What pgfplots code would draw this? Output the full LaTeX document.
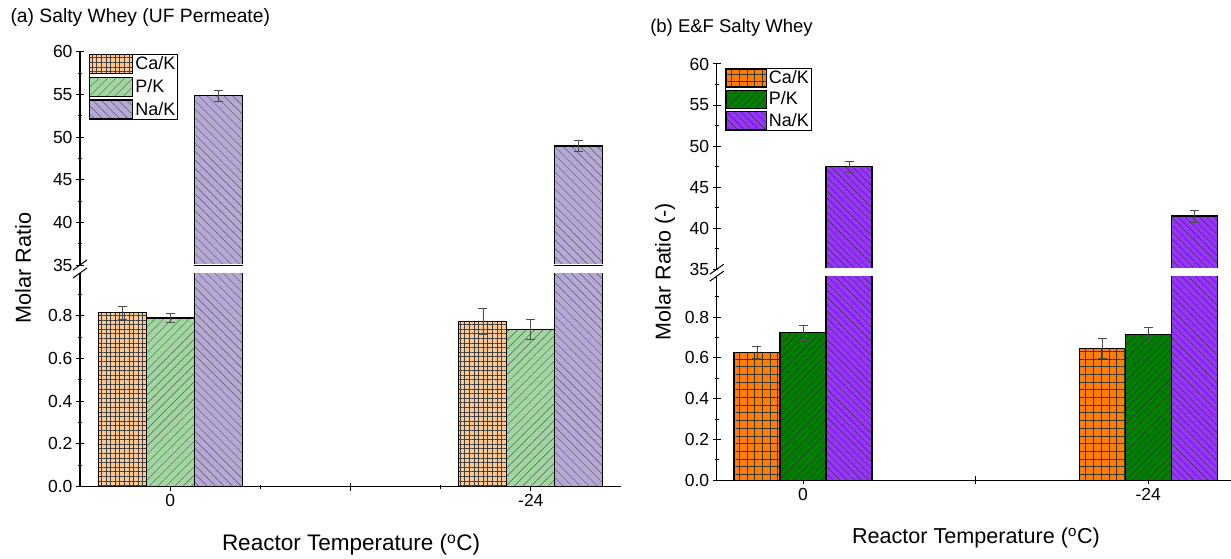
\documentclass[border=0pt]{standalone}
\usepackage{pgfplots}
\pgfplotsset{compat=1.18}
\usepackage{fontspec}
\setmainfont{Liberation Sans}
\usetikzlibrary{patterns.meta}

\definecolor{caA}{RGB}{252,200,150}
\definecolor{pkA}{RGB}{160,214,160}
\definecolor{naA}{RGB}{182,168,214}
\definecolor{caB}{RGB}{255,128,0}
\definecolor{pkB}{RGB}{0,128,0}
\definecolor{naB}{RGB}{153,51,255}

\pgfplotsset{
  brk/.style={
    scale only axis, enlargelimits=false,
    ybar, bar width=0.266,
    tick align=outside, major tick length=8pt, minor tick length=4pt,
    tick style={black, line width=1pt},
    tick label style={font=\fontsize{17.5}{20}\selectfont},
    /pgf/number format/assume math mode=true,
    legend image code/.code={\draw[##1] (0pt,-9.5pt) rectangle (43pt,9.5pt);},
  },
  noarrows/.style={
    axis line style={-, line width=1.3pt, black},
    every outer x axis line/.append style={-},
    every outer y axis line/.append style={-},
    every inner x axis line/.append style={-},
    every inner y axis line/.append style={-},
    x axis line style={-}, y axis line style={-},
  },
  upper/.style={
    brk, axis x line=none, axis y line=left, noarrows,
    ymin=35, ymax=60, ytick={35,40,45,50,55,60},
    minor ytick={37.5,42.5,47.5,52.5,57.5}, xtick=\empty,
  },
  lower/.style={
    brk, axis x line=bottom, axis y line=left, noarrows,
    ymin=0, ymax=1, ytick={0,0.2,0.4,0.6,0.8},
    yticklabels={0.0,0.2,0.4,0.6,0.8},
    minor ytick={0.1,0.3,0.5,0.7,0.9},
    xtick={0,1,2}, xticklabels={0,,-24},
  },
  bord/.style={draw=black, line width=1.2pt},
  ebar/.style={error bars/.cd, y dir=both, y explicit,
    error bar style={line width=0.7pt, black!70},
    error mark options={rotate=90, mark size=4.5pt, line width=0.7pt, black!70}},
  caAs/.style={bord, fill=caA, postaction={pattern={Hatch[angle=0,distance=4.6pt,line width=0.5pt]}, pattern color=black!75}},
  pkAs/.style={bord, fill=pkA, postaction={pattern={Lines[angle=45,distance=6pt,line width=0.45pt]}, pattern color=black!65}},
  naAs/.style={bord, fill=naA, postaction={pattern={Lines[angle=-45,distance=6pt,line width=0.45pt]}, pattern color=black!65}},
  caBs/.style={bord, fill=caB, postaction={pattern={Hatch[angle=0,distance=7.7pt,line width=0.5pt]}, pattern color=black!80}},
  pkBs/.style={bord, fill=pkB, postaction={pattern={Lines[angle=45,distance=5pt,line width=0.45pt]}, pattern color=black!80}},
  naBs/.style={bord, fill=naB, postaction={pattern={Lines[angle=-45,distance=5pt,line width=0.45pt]}, pattern color=black!80}},
}

\begin{document}
\begin{tikzpicture}[x=1pt,y=1pt]
\useasboundingbox (0,0) rectangle (1231,-559);

% ---------------- Panel (a) upper ----------------
\begin{axis}[upper, name=aU, at={(80pt,-51.7pt)}, anchor=north west,
  width=541pt, height=213.3pt, xmin=-0.5, xmax=2.5,
  title={(a) Salty Whey (UF Permeate)},
  title style={at={(axis description cs:-0.135,1.130)}, anchor=west,
    font=\fontsize{19.3}{22}\selectfont},
  legend style={at={(axis description cs:0.0166,0.9906)}, anchor=north west,
    draw=black, line width=0.6pt, inner sep=0pt, row sep=2.5pt,
    font=\fontsize{18}{20}\selectfont, nodes={inner sep=2pt}},
  legend cell align=left]
\addlegendimage{caAs}\addlegendentry{Ca/K}
\addlegendimage{pkAs}\addlegendentry{P/K}
\addlegendimage{naAs}\addlegendentry{Na/K}
\addplot[naAs, bar shift=0.266, forget plot, ebar]
  coordinates {(0,54.84) +- (0,0.67) (2,48.94) +- (0,0.66)};
\coordinate (aUbl) at (rel axis cs:0,0);
\coordinate (aUbr) at (rel axis cs:1,0);
\end{axis}

% ---------------- Panel (a) lower ----------------
\begin{axis}[lower, name=aL, at={(80pt,-273pt)}, anchor=north west,
  width=541pt, height=213.7pt, xmin=-0.5, xmax=2.5,
  minor xtick={0.5,1.5},
  xlabel={Reactor Temperature (\textsuperscript{o}C)},
  xlabel style={at={(axis description cs:0.501,-0.273)}, anchor=center,
    font=\fontsize{22.5}{25}\selectfont},
  ylabel={Molar Ratio},
  ylabel style={at={(axis description cs:-0.105,1.023)}, anchor=center,
    font=\fontsize{21.7}{24}\selectfont}]
\addplot[caAs, bar shift=-0.266, ebar]
  coordinates {(0,0.814) +- (0,0.031) (2,0.774) +- (0,0.059)};
\addplot[pkAs, bar shift=0, ebar]
  coordinates {(0,0.789) +- (0,0.022) (2,0.736) +- (0,0.045)};
\addplot[naAs, bar shift=0.266]
  coordinates {(0,54.84) (2,48.94)};
\coordinate (aLtl) at (rel axis cs:0,1);
\end{axis}

% ---------------- Panel (b) upper ----------------
\begin{axis}[upper, name=bU, at={(716.7pt,-64pt)}, anchor=north west,
  width=514.3pt, height=205.3pt, xmin=-0.5, xmax=2.48,
  title={(b) E\&F Salty Whey},
  title style={at={(axis description cs:-0.136,1.1495)}, anchor=west,
    font=\fontsize{18.5}{21}\selectfont},
  legend style={at={(axis description cs:0.0167,0.9805)}, anchor=north west,
    draw=black, line width=0.6pt, inner sep=0pt, row sep=2pt,
    font=\fontsize{18}{20}\selectfont, nodes={inner sep=2pt}},
  legend image code/.code={\draw[#1] (0pt,-9pt) rectangle (40pt,9pt);},
  legend cell align=left]
\addlegendimage{caBs}\addlegendentry{Ca/K}
\addlegendimage{pkBs}\addlegendentry{P/K}
\addlegendimage{naBs}\addlegendentry{Na/K}
\addplot[naBs, bar shift=0.2667, forget plot, ebar]
  coordinates {(0,47.49) +- (0,0.67) (2,41.49) +- (0,0.74)};
\coordinate (bUbl) at (rel axis cs:0,0);
\coordinate (bUbr) at (rel axis cs:1,0);
\end{axis}

% ---------------- Panel (b) lower ----------------
\begin{axis}[lower, name=bL, at={(716.7pt,-276.2pt)}, anchor=north west,
  width=514.3pt, height=204.1pt, xmin=-0.5, xmax=2.48,
  xlabel={Reactor Temperature (\textsuperscript{o}C)},
  xlabel style={at={(axis description cs:0.504,-0.283)}, anchor=center,
    font=\fontsize{21.6}{24}\selectfont},
  ylabel={Molar Ratio (-)},
  ylabel style={at={(axis description cs:-0.1005,1.023)}, anchor=center,
    font=\fontsize{21.5}{24}\selectfont}]
\addplot[caBs, bar shift=-0.2667, ebar]
  coordinates {(0,0.627) +- (0,0.028) (2,0.646) +- (0,0.049)};
\addplot[pkBs, bar shift=0, ebar]
  coordinates {(0,0.723) +- (0,0.036) (2,0.716) +- (0,0.035)};
\addplot[naBs, bar shift=0.2667]
  coordinates {(0,47.49) (2,41.49)};
\coordinate (bLtl) at (rel axis cs:0,1);
\end{axis}

% hide the bar base edge that pgfplots draws at the lower limit of the upper axes
\fill[white] ([xshift=1pt,yshift=-0.2pt]aUbl) rectangle ([yshift=1.2pt]aUbr);
\fill[white] ([xshift=1pt,yshift=-0.2pt]bUbl) rectangle ([yshift=1.2pt]bUbr);

% axis break marks
\foreach \c in {aUbl,aLtl,bUbl,bLtl}{
  \draw[line width=1pt, black] (\c) ++(-7pt,-5pt) -- ++(14pt,10pt);
}
\end{tikzpicture}
\end{document}
